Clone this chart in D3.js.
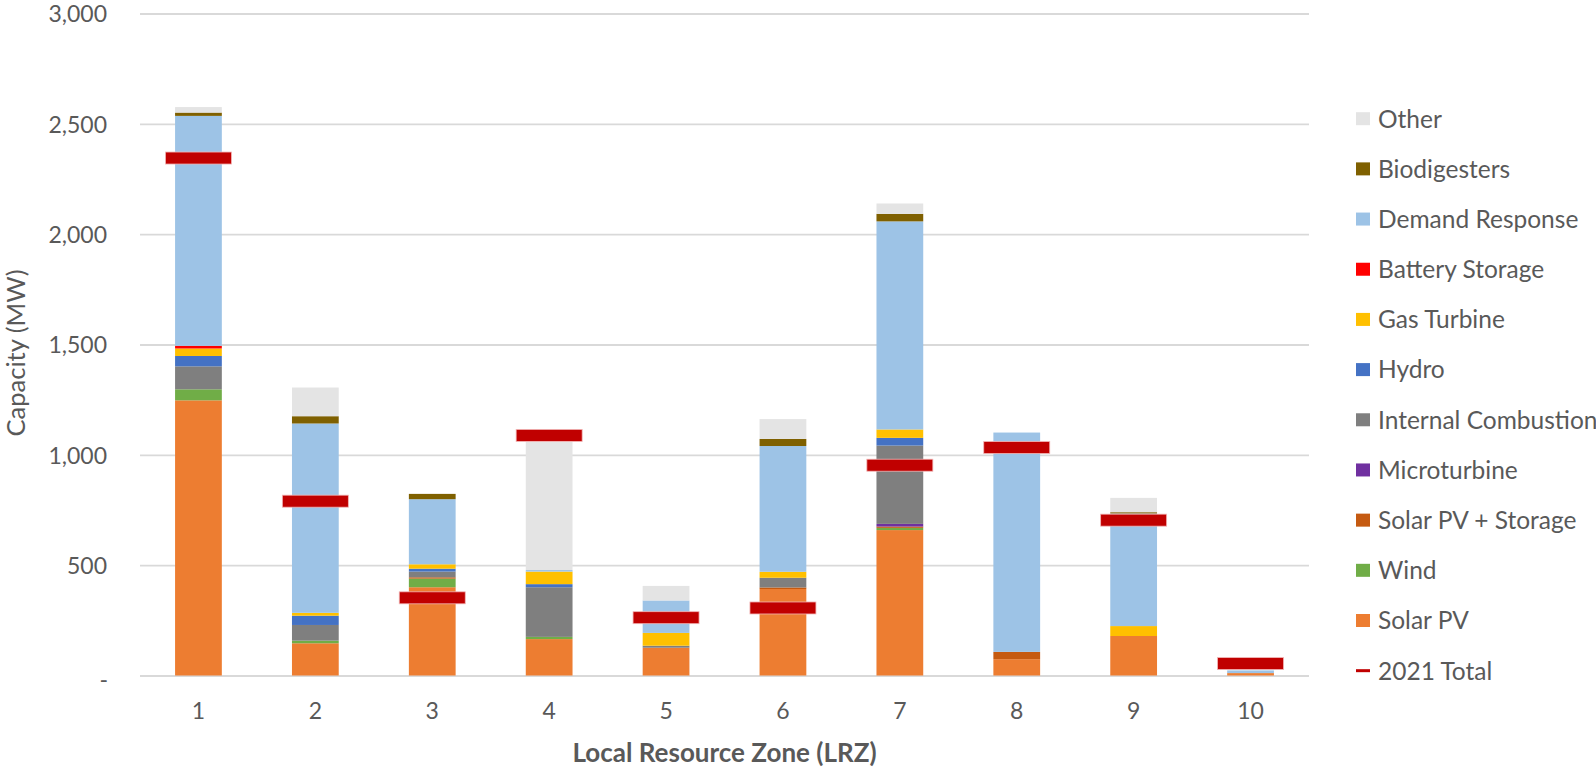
<!DOCTYPE html>
<html><head><meta charset="utf-8">
<script src="https://cdn.jsdelivr.net/npm/d3@7"></script>
<style>
body{margin:0;background:#fff;overflow:hidden}
svg{display:block}
text{font-family:Lato, "Open Sans", sans-serif; fill:#595959}
</style>
</head><body>
<svg id="c" width="1596" height="770"></svg>
<script>
const zones = ["1","2","3","4","5","6","7","8","9","10"];
const seriesNames = ["Solar PV","Wind","Solar PV + Storage","Microturbine","Internal Combustion","Hydro","Gas Turbine","Battery Storage","Demand Response","Biodigesters","Other"];
const seriesColors = ["#ed7d31","#70ad47","#c55a11","#7030a0","#7f7f7f","#4472c4","#ffc000","#ff0000","#9dc3e6","#7f6000","#e4e4e4"];
const solarPV      = [1247, 146, 400, 165, 126, 392, 659, 74, 179, 11];
const wind         = [50, 12, 39, 10, 0, 0, 10, 0, 0, 0];
const solarStorage = [0, 0, 6, 0, 0, 7, 6, 33, 0, 0];
const microturbine = [0, 0, 0, 0, 0, 0, 12, 0, 0, 0];
const internalComb = [104, 71, 26, 225, 9, 44, 355, 0, 0, 0];
const hydro        = [47, 42, 13, 14, 0, 0, 35, 0, 0, 0];
const gasTurbine   = [34, 13, 20, 57, 58, 27, 38, 0, 45, 0];
const battery      = [12, 0, 0, 0, 0, 0, 0, 0, 0, 0];
const demandResp   = [1042, 858, 295, 7, 147, 570, 943, 994, 510, 12];
const biodigesters = [15, 33, 24, 0, 0, 32, 34, 0, 6, 0];
const other        = [25, 130, 0, 580, 66, 90, 47, 0, 65, 0];
const total2021    = [2345, 790, 352, 1088, 262, 306, 953, 1033, 704, 54];
const yTicks = [0, 500, 1000, 1500, 2000, 2500, 3000];
const legendOrder = ["Other","Biodigesters","Demand Response","Battery Storage","Gas Turbine","Hydro","Internal Combustion","Microturbine","Solar PV + Storage","Wind","Solar PV"];

(function () {
const seriesValues = [solarPV, wind, solarStorage, microturbine, internalComb, hydro, gasTurbine, battery, demandResp, biodigesters, other];
const rows = zones.map((z, i) => {
  const r = {zone: z};
  seriesNames.forEach((n, k) => r[n] = seriesValues[k][i]);
  return r;
});
const color = d3.scaleOrdinal().domain(seriesNames).range(seriesColors);
const stacked = d3.stack().keys(seriesNames)(rows);

const svg = d3.select("#c");
const pL = 140, pR = 1309, pT = 13.5, pB = 675.5;
const x = d3.scaleBand().domain(zones).range([pL, pR]).paddingInner(0.6).paddingOuter(0.3);
const y = d3.scaleLinear().domain([0, 3000]).range([pB, pT]);

// grid + y axis
const yAxis = svg.append("g").attr("transform", `translate(${pL},0)`)
  .call(d3.axisLeft(y).tickValues(yTicks).tickSize(-(pR - pL)).tickPadding(33)
    .tickFormat(d => d === 0 ? "-" : d3.format(",")(d)));
yAxis.select(".domain").remove();
yAxis.selectAll(".tick line").attr("stroke", "#d9d9d9").attr("stroke-width", 1.8);
yAxis.selectAll(".tick text").style("font-size", "23px").attr("fill", "#595959").attr("dy", "0.36em");
yAxis.selectAll(".tick").filter(d => d === 0).select("text").attr("dx", "1").attr("dy", "0.5em");

// bars
svg.append("g").selectAll("g").data(stacked).join("g")
  .attr("fill", d => color(d.key))
  .selectAll("rect").data(d => d).join("rect")
  .attr("x", d => x(d.data.zone))
  .attr("width", x.bandwidth())
  .attr("y", d => y(d[1]))
  .attr("height", d => Math.max(0, y(d[0]) - y(d[1])));

// 2021 totals
const mw = 66, mh = 12;
svg.append("g").selectAll("rect").data(zones.map((z, i) => ({zone: z, v: total2021[i]}))).join("rect")
  .attr("x", d => x(d.zone) + x.bandwidth() / 2 - mw / 2)
  .attr("y", d => y(d.v) - mh / 2)
  .attr("width", mw).attr("height", mh)
  .attr("fill", "#c00000").attr("stroke", "#f2b6b6").attr("stroke-width", 0.8);

// x axis
const xAxis = svg.append("g").attr("transform", `translate(0,${pB})`)
  .call(d3.axisBottom(x).tickSize(0).tickPadding(27));
xAxis.select(".domain").remove();
xAxis.selectAll(".tick text").style("font-size", "23px").attr("fill", "#595959");

// titles
svg.append("text").attr("x", (pL + pR) / 2).attr("y", 762)
  .attr("text-anchor", "middle").style("font-size", "26px").style("font-weight", "bold")
  .text("Local Resource Zone (LRZ)");
svg.append("text").attr("transform", "translate(25,353) rotate(-90)")
  .attr("text-anchor", "middle").style("font-size", "25.5px")
  .text("Capacity (MW)");

// legend
const lg = svg.append("g");
const ly0 = 118.7, lstep = 50.18;
legendOrder.forEach((n, i) => {
  const cy = ly0 + i * lstep;
  lg.append("rect").attr("x", 1356).attr("y", cy - 6.5).attr("width", 14).attr("height", 13).attr("fill", color(n));
  lg.append("text").attr("x", 1378).attr("y", cy).attr("dy", "0.36em").style("font-size", "24.5px").text(n);
});
const ty = ly0 + legendOrder.length * lstep;
lg.append("line").attr("x1", 1356).attr("x2", 1370).attr("y1", ty).attr("y2", ty).attr("stroke", "#c00000").attr("stroke-width", 3);
lg.append("text").attr("x", 1378).attr("y", ty).attr("dy", "0.36em").style("font-size", "24.5px").text("2021 Total");
})();
</script>
</body></html>
